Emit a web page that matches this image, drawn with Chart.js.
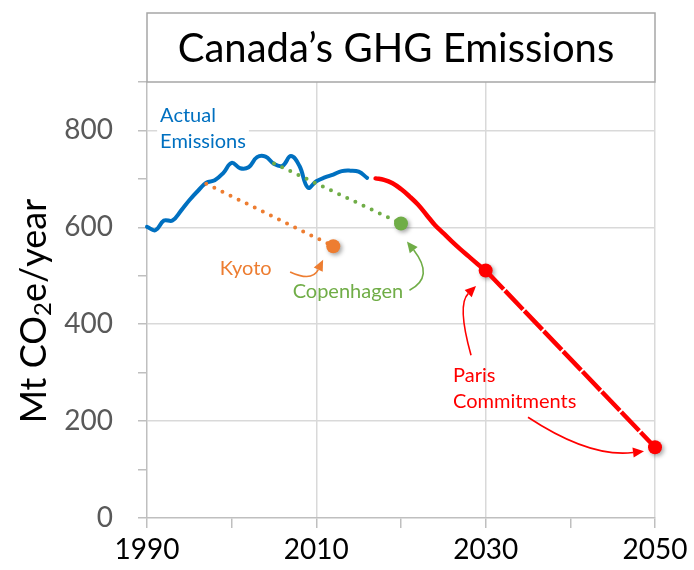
<!DOCTYPE html>
<html><head><meta charset="utf-8">
<script src="https://cdn.jsdelivr.net/npm/chart.js@4.4.1/dist/chart.umd.min.js"></script>
<style>html,body{margin:0;padding:0;background:#fff}#wrap{width:694px;height:570px}</style>
</head><body><div id="wrap"><canvas id="c" width="694" height="570"></canvas></div>
<script>
// ---- data ----
const chartTitle = 'Canada’s GHG Emissions';
const yTitleParts = ['Mt CO', '2', 'e/year'];
const actualYears = [1990,1991,1992,1993,1994,1995,1996,1997,1998,1999,2000,2001,2002,2003,2004,2005,2006,2007,2008,2009,2010,2011,2012,2013,2014,2015,2016];
const actualValues = [601,594,614,614,634,656,675,692,697,712,733,722,724,745,746,731,727,747,727,682,695,703,709,716,717,715,702];
const kyotoYears = [1997, 2012];
const kyotoValues = [690, 561];
const copenhagenYears = [2005, 2020];
const copenhagenValues = [732, 608];
const parisYears = [2017,2018,2019,2020,2021,2022,2023,2024,2025,2026,2027,2028,2029,2030];
const parisValues = [701,698,691,679,664,647,626,605,588,571,555,540,525,511];
const longTermYears = [2030, 2050];
const longTermValues = [511, 146];
const kyotoTargetYear = [2012], kyotoTargetValue = [561];
const copenhagenTargetYear = [2020], copenhagenTargetValue = [608];
const parisTargetYears = [2030, 2050], parisTargetValues = [511, 146];
const xTickLabels = [1990, 2010, 2030, 2050];
const yTickLabels = [0, 200, 400, 600, 800];

const BLUE = '#0070C0', ORANGE = '#ED7D31', GREEN = '#70AD47', RED = '#FF0000';
const FONT = 'Lato, "Open Sans", sans-serif';

const pts = (xs, ys) => xs.map((x, i) => ({x, y: ys[i]}));

// annotation texts (anchored in data coordinates)
const notes = [
  {lines: ['Actual', 'Emissions'], color: BLUE, at: [1991.55, 817], bg: true},
  {lines: ['Kyoto'], color: ORANGE, at: [1998.6, 501]},
  {lines: ['Copenhagen'], color: GREEN, at: [2007.2, 454]},
  {lines: ['Paris', 'Commitments'], color: RED, at: [2026.15, 281]}
];
// curved arrows: start, control, end (data coordinates)
const arrows = [
  {color: ORANGE, p: [[2006.9, 508], [2009.5, 487], [2010.8, 533]]},
  {color: GREEN, p: [[2021.0, 470], [2024.0, 497], [2020.7, 571]]},
  {color: RED, p: [[2028.27, 336], [2026.6, 440], [2028.86, 479]]},
  {color: RED, p: [[2035.0, 208], [2042.3, 124], [2048.7, 138]]}
];

const decor = {
  id: 'decor',
  beforeDatasetsDraw(chart) {
    const {ctx, chartArea: a, scales: {x, y}} = chart;
    ctx.save();
    // title box
    ctx.fillStyle = '#fff';
    ctx.fillRect(a.left, 13, a.right - a.left, a.top - 13);
    ctx.strokeStyle = '#a6a6a6';
    ctx.lineWidth = 1.5;
    ctx.strokeRect(a.left, 13, a.right - a.left, a.top - 13);
    ctx.fillStyle = '#000';
    ctx.font = '40px ' + FONT;
    ctx.textAlign = 'center';
    ctx.textBaseline = 'alphabetic';
    ctx.fillText(chartTitle, (a.left + a.right) / 2 - 5, 62);
    // y axis title with subscript
    ctx.translate(34, 311);
    ctx.rotate(-Math.PI / 2);
    const big = '36px ' + FONT, small = '24px ' + FONT;
    ctx.font = big; const w1 = ctx.measureText(yTitleParts[0]).width;
    const w3 = ctx.measureText(yTitleParts[2]).width;
    ctx.font = small; const w2 = ctx.measureText(yTitleParts[1]).width;
    let sx = -(w1 + w2 + w3) / 2;
    ctx.textAlign = 'left';
    ctx.textBaseline = 'middle';
    ctx.font = big; ctx.fillText(yTitleParts[0], sx, 0); sx += w1;
    ctx.font = small; ctx.fillText(yTitleParts[1], sx, 9); sx += w2;
    ctx.font = big; ctx.fillText(yTitleParts[2], sx, 0);
    ctx.restore();
    // notes
    ctx.save();
    ctx.font = '20px ' + FONT;
    ctx.textAlign = 'left';
    ctx.textBaseline = 'alphabetic';
    notes.forEach(n => {
      const px = x.getPixelForValue(n.at[0]), py = y.getPixelForValue(n.at[1]);
      if (n.bg) {
        let w = 0; n.lines.forEach(l => w = Math.max(w, ctx.measureText(l).width));
        ctx.fillStyle = '#fff';
        ctx.fillRect(px - 3, py - 20, w + 6, 26 * n.lines.length + 4);
      }
      ctx.fillStyle = n.color;
      n.lines.forEach((l, i) => ctx.fillText(l, px, py + i * 26));
    });
    ctx.restore();
  },
  afterDatasetsDraw(chart) {
    const {ctx, scales: {x, y}} = chart;
    ctx.save();
    arrows.forEach(ar => {
      const [s, c, e] = ar.p.map(q => [x.getPixelForValue(q[0]), y.getPixelForValue(q[1])]);
      const ang = Math.atan2(e[1] - c[1], e[0] - c[0]);
      const L = 11, W = 5;
      const bx = e[0] - L * Math.cos(ang), by = e[1] - L * Math.sin(ang);
      ctx.strokeStyle = ar.color; ctx.fillStyle = ar.color; ctx.lineWidth = 1.6;
      ctx.beginPath(); ctx.moveTo(s[0], s[1]); ctx.quadraticCurveTo(c[0], c[1], bx, by); ctx.stroke();
      ctx.beginPath();
      ctx.moveTo(e[0], e[1]);
      ctx.lineTo(bx + W * Math.sin(ang), by - W * Math.cos(ang));
      ctx.lineTo(bx - W * Math.sin(ang), by + W * Math.cos(ang));
      ctx.closePath(); ctx.fill();
    });
    ctx.restore();
  },
  beforeDatasetDraw(chart, args) {
    if (chart.data.datasets[args.index].isMarker) {
      const ctx = chart.ctx; ctx.save();
      ctx.shadowColor = 'rgba(0,0,0,0.35)'; ctx.shadowBlur = 4; ctx.shadowOffsetX = 2; ctx.shadowOffsetY = 2;
    }
  },
  afterDatasetDraw(chart, args) {
    if (chart.data.datasets[args.index].isMarker) chart.ctx.restore();
  }
};

const lineDs = (label, xs, ys, color, extra) => Object.assign({
  label, data: pts(xs, ys), showLine: true, borderColor: color, backgroundColor: color,
  borderWidth: 4, pointRadius: 0, tension: 0.4, borderCapStyle: 'round', borderJoinStyle: 'round', clip: false
}, extra || {});
const markerDs = (label, xs, ys, color) => ({
  label, data: pts(xs, ys), showLine: false, isMarker: true, backgroundColor: color, borderColor: color,
  pointRadius: 7, borderWidth: 0, clip: false
});

new Chart(document.getElementById('c'), {
  type: 'scatter',
  data: {datasets: [
    lineDs('Kyoto path', kyotoYears, kyotoValues, ORANGE, {borderDash: [0, 9], tension: 0}),
    lineDs('Copenhagen path', copenhagenYears, copenhagenValues, GREEN, {borderDash: [0, 9], tension: 0}),
    lineDs('Actual Emissions', actualYears, actualValues, BLUE, {borderWidth: 4}),
    lineDs('Paris to 2030', parisYears, parisValues, RED, {borderWidth: 4.5}),
    lineDs('Paris to 2050', longTermYears, longTermValues, RED, {borderWidth: 4.5, borderDash: [26, 2], borderCapStyle: 'butt', tension: 0}),
    markerDs('Kyoto', kyotoTargetYear, kyotoTargetValue, ORANGE),
    markerDs('Copenhagen', copenhagenTargetYear, copenhagenTargetValue, GREEN),
    markerDs('Paris Commitments', parisTargetYears, parisTargetValues, RED)
  ]},
  options: {
    responsive: false, animation: false, devicePixelRatio: 1,
    layout: {padding: {top: 82, right: 39, left: 0, bottom: 0}},
    plugins: {legend: {display: false}, tooltip: {enabled: false}, title: {display: false}},
    scales: {
      x: {
        type: 'linear', min: 1990, max: 2050,
        afterFit: s => { s.height = 52; },
        afterBuildTicks: s => { s.ticks = [1990,2000,2010,2020,2030,2040,2050].map(v => ({value: v})); },
        ticks: {autoSkip: false, maxRotation: 0, padding: 5, color: '#000', font: {family: FONT, size: 28},
          callback: v => xTickLabels.includes(v) ? String(v) : ''},
        grid: {color: c => (c.tick && xTickLabels.includes(c.tick.value) && c.tick.value !== 1990) ? '#d9d9d9' : 'rgba(0,0,0,0)',
          tickColor: '#bfbfbf', tickLength: 10, lineWidth: 1.5},
        border: {color: '#bfbfbf', width: 1.5}
      },
      y: {
        min: 0, max: 900,
        afterFit: s => { s.width = 147; },
        afterBuildTicks: s => { s.ticks = [0,100,200,300,400,500,600,700,800,900].map(v => ({value: v})); },
        ticks: {autoSkip: false, padding: 25, color: '#595959', font: {family: FONT, size: 28},
          callback: v => yTickLabels.includes(v) ? String(v) : ''},
        grid: {color: c => (c.tick && yTickLabels.includes(c.tick.value) && c.tick.value !== 0) ? '#d9d9d9' : 'rgba(0,0,0,0)',
          tickColor: '#bfbfbf', tickLength: 9, lineWidth: 1.5},
        border: {color: '#bfbfbf', width: 1.5}
      }
    }
  },
  plugins: [decor]
});
</script>
</body></html>
